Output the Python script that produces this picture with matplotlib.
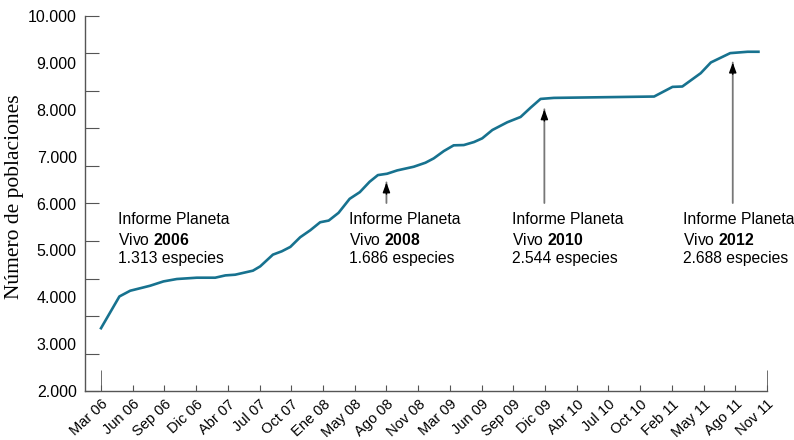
import matplotlib
matplotlib.use("Agg")
import matplotlib.pyplot as plt

plt.rcParams["font.family"] = ["Liberation Sans", "DejaVu Sans"]
plt.rcParams["mathtext.fontset"] = "custom"
plt.rcParams["mathtext.rm"] = "Liberation Sans"
plt.rcParams["mathtext.bf"] = "Liberation Sans:bold"

# ---- data (x in tick-index units, 0 = Mar 06, 21 = Nov 11) ----
tick_labels = ["Mar 06", "Jun 06", "Sep 06", "Dic 06", "Abr 07", "Jul 07", "Oct 07",
               "Ene 08", "May 08", "Ago 08", "Nov 08", "Mar 09", "Jun 09", "Sep 09",
               "Dic 09", "Abr 10", "Jul 10", "Oct 10", "Feb 11", "May 11", "Ago 11",
               "Nov 11"]

x_pos = [0.00, 0.58, 0.92, 1.34, 1.55, 1.97, 2.39, 3.02, 3.60, 3.92, 4.23, 4.79,
         5.02, 5.42, 5.70, 5.97, 6.28, 6.60, 6.91, 7.18, 7.49, 7.84, 8.16, 8.47,
         8.73, 9.02, 9.34, 9.86, 10.23, 10.49, 10.81, 11.12, 11.44, 11.76, 12.02,
         12.34, 12.81, 13.23, 13.55, 13.86, 14.28, 17.44, 18.02, 18.33, 18.91,
         19.23, 19.84, 20.39, 20.73]
poblaciones = [3340, 4017, 4139, 4210, 4246, 4338, 4389, 4417, 4417, 4466, 4481,
               4567, 4659, 4909, 4980, 5074, 5280, 5430, 5600, 5636, 5801, 6100,
               6242, 6464, 6606, 6635, 6706, 6784, 6870, 6962, 7119, 7241, 7247,
               7311, 7390, 7568, 7733, 7846, 8047, 8231, 8253, 8282, 8488, 8496,
               8780, 9009, 9208, 9237, 9237]

informe_years = ["2006", "2008", "2010", "2012"]
informe_species = ["1.313", "1.686", "2.544", "2.688"]
informe_text_x = [0.55, 7.81, 12.97, 18.34]
arrow_x = [None, 9.0, 13.98, 19.92]
arrow_tip = [None, 6450, 8010, 9007]

fig = plt.figure(figsize=(7.94, 4.40), dpi=100)
ax = fig.add_axes([85 / 794, 1 - 391 / 440, (767 - 85) / 794, (391 - 16) / 440])

ax.plot(x_pos, poblaciones, color="#17728f", lw=1.9, solid_joinstyle="round")

ax.set_xlim(-0.505, 21.0)
ax.set_ylim(2000, 10000)

for s in ["top", "right"]:
    ax.spines[s].set_visible(False)
for s in ["left", "bottom"]:
    ax.spines[s].set_color("#555555")
    ax.spines[s].set_linewidth(1.0)

# x axis
ax.xaxis.remove_overlapping_locs = False
ax.set_xticks(range(len(tick_labels)))
ax.set_xticklabels(tick_labels, rotation=43, ha="right", va="top",
                   rotation_mode="anchor", fontsize=10.5)
ax.set_xticks([0, len(tick_labels) - 1], minor=True)
ax.tick_params(axis="x", which="major", direction="in", length=4.5,
               color="#555555", pad=4.5)
ax.tick_params(axis="x", which="minor", direction="in", length=15,
               color="#555555")

# y axis: ticks every 800, labels every 1000
ax.yaxis.remove_overlapping_locs = False
ax.set_yticks(range(2000, 10001, 800))
ax.set_yticklabels([])
ylab_vals = list(range(2000, 10001, 1000))
ax.set_yticks(ylab_vals, minor=True)
ax.set_yticklabels([f"{v // 1000}.000" for v in ylab_vals], minor=True, fontsize=11.5)
ax.tick_params(axis="y", which="major", direction="in", length=10, color="#555555")
ax.tick_params(axis="y", which="minor", length=0, pad=6)

fig.text(15 / 794, 1 - 197 / 440, "Número de poblaciones", family="Liberation Serif",
         fontsize=15.5, rotation=90, ha="center", va="center")

# annotations
line_y = [5658, 5230, 4824]
for yr, sp, tx in zip(informe_years, informe_species, informe_text_x):
    ax.text(tx, line_y[0], "Informe Planeta", fontsize=11.3, va="center", ha="left")
    ax.text(tx, line_y[1], r"Vivo $\mathbf{" + yr + "}$", fontsize=11.3,
            va="center", ha="left")
    ax.text(tx, line_y[2], f"{sp} especies", fontsize=11.3, va="center", ha="left")

for ax_x, tip in zip(arrow_x, arrow_tip):
    if ax_x is None:
        continue
    ax.annotate("", xy=(ax_x, tip), xytext=(ax_x, 6010),
                arrowprops=dict(arrowstyle="-", color="#777777", lw=1.3,
                                shrinkA=0, shrinkB=0))
    ax.annotate("", xy=(ax_x, tip), xytext=(ax_x, tip - 250),
                arrowprops=dict(arrowstyle="-|>,head_length=0.6,head_width=0.22",
                                color="black", lw=1.0, shrinkA=0, shrinkB=0))

fig.savefig("out.png", dpi=100)
